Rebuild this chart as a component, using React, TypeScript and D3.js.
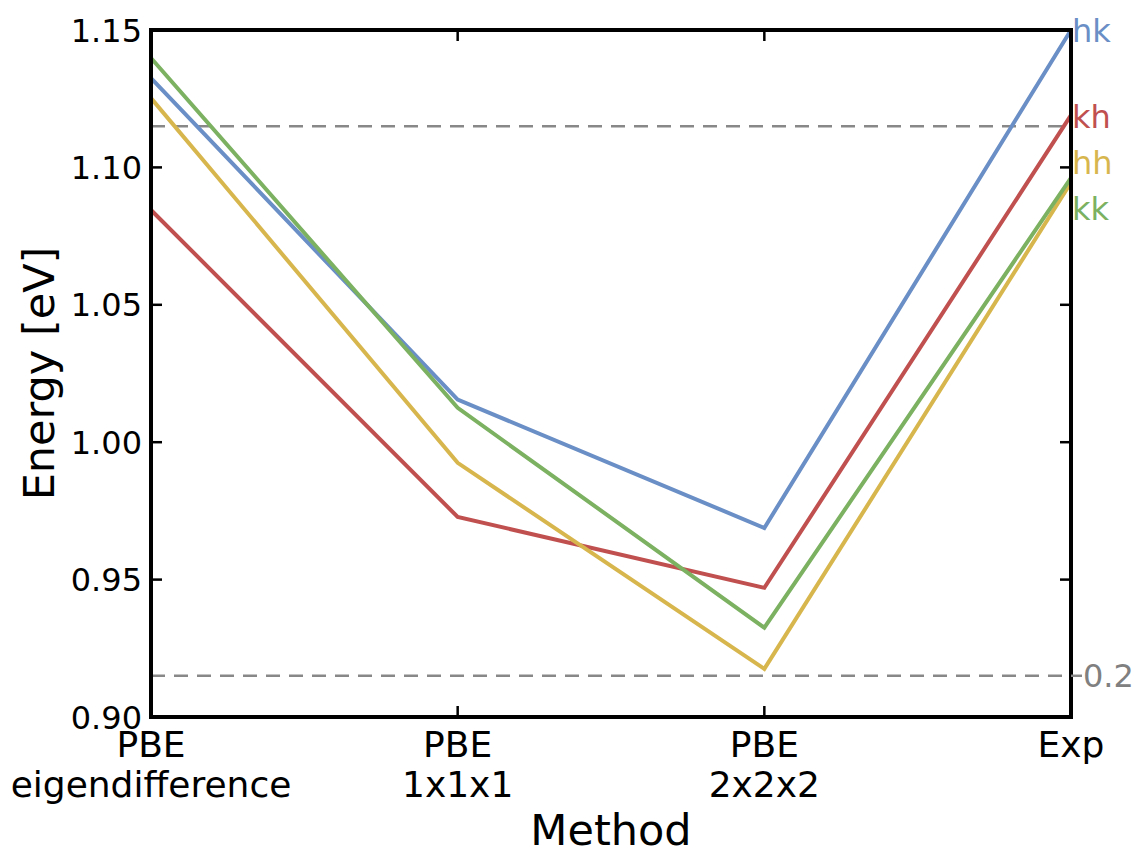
import React, { useEffect, useRef } from "react";
import * as d3 from "d3";

const methods = ["PBE\neigendifference", "PBE\n1x1x1", "PBE\n2x2x2", "Exp"];
const yTicks = [0.9, 0.95, 1.0, 1.05, 1.1, 1.15];

const hk = [1.1325, 1.0155, 0.9688, 1.15];
const kh = [1.0845, 0.9728, 0.947, 1.119];
const hh = [1.1252, 0.9925, 0.9175, 1.0945];
const kk = [1.1398, 1.0125, 0.9325, 1.0962];

const series = [
  { name: "hk", values: hk, color: "#6a8ec6" },
  { name: "kh", values: kh, color: "#c0504f" },
  { name: "hh", values: hh, color: "#d8b64e" },
  { name: "kk", values: kk, color: "#7bb161" },
];
const labelY = [1.15, 1.1185, 1.1018, 1.085];
const dashedLevels = [1.115, 0.915];

const W = 1135;
const H = 850;
const left = 151;
const right = 1071;
const top = 30;
const bottom = 717;

const App = () => {
  const svgRef = useRef<SVGSVGElement>(null);

  useEffect(() => {
    const svg = d3.select(svgRef.current);
    svg.selectAll("*").remove();
    const font = "DejaVu Sans, sans-serif";

    const x = d3.scalePoint<number>().domain(methods.map((_, i) => i)).range([left, right]);
    const y = d3.scaleLinear().domain([0.9, 1.15]).range([bottom, top]);

    // dashed reference lines
    svg
      .selectAll(".ref")
      .data(dashedLevels)
      .join("line")
      .attr("x1", left)
      .attr("x2", right)
      .attr("y1", (d) => y(d))
      .attr("y2", (d) => y(d))
      .attr("stroke", "#888888")
      .attr("stroke-width", 2.5)
      .attr("stroke-dasharray", "14,9");

    const line = d3
      .line<number>()
      .x((_, i) => x(i)!)
      .y((d) => y(d));

    svg
      .selectAll(".series")
      .data(series)
      .join("path")
      .attr("d", (s) => line(s.values))
      .attr("fill", "none")
      .attr("stroke", (s) => s.color)
      .attr("stroke-width", 4);

    // frame
    svg
      .append("rect")
      .attr("x", left)
      .attr("y", top)
      .attr("width", right - left)
      .attr("height", bottom - top)
      .attr("fill", "none")
      .attr("stroke", "#000")
      .attr("stroke-width", 4);

    // y ticks (inward, both sides)
    const tickLen = 11;
    yTicks.forEach((t) => {
      svg.append("line").attr("x1", left).attr("x2", left + tickLen).attr("y1", y(t)).attr("y2", y(t)).attr("stroke", "#000").attr("stroke-width", 2.5);
      svg.append("line").attr("x1", right).attr("x2", right - tickLen).attr("y1", y(t)).attr("y2", y(t)).attr("stroke", "#000").attr("stroke-width", 2.5);
    });
    svg
      .selectAll(".ytl")
      .data(yTicks)
      .join("text")
      .attr("x", left - 9)
      .attr("y", (d) => y(d))
      .attr("dy", "0.36em")
      .attr("text-anchor", "end")
      .attr("font-family", font)
      .attr("font-size", 32)
      .text((d) => d.toFixed(2));

    // x ticks
    methods.forEach((_, i) => {
      const xx = x(i)!;
      svg.append("line").attr("x1", xx).attr("x2", xx).attr("y1", bottom).attr("y2", bottom - tickLen).attr("stroke", "#000").attr("stroke-width", 2.5);
      svg.append("line").attr("x1", xx).attr("x2", xx).attr("y1", top).attr("y2", top + tickLen).attr("stroke", "#000").attr("stroke-width", 2.5);
    });
    methods.forEach((m, i) => {
      const t = svg
        .append("text")
        .attr("x", x(i)!)
        .attr("y", 757)
        .attr("text-anchor", "middle")
        .attr("font-family", font)
        .attr("font-size", 36);
      m.split("\n").forEach((part, k) => {
        t.append("tspan").attr("x", x(i)!).attr("dy", k === 0 ? 0 : 40).text(part);
      });
    });

    // series labels at right
    series.forEach((s, i) => {
      svg
        .append("text")
        .attr("x", right + 1)
        .attr("y", y(labelY[i]))
        .attr("dy", "0.36em")
        .attr("font-family", font)
        .attr("font-size", 32)
        .attr("fill", s.color)
        .text(s.name);
    });

    svg
      .append("line")
      .attr("x1", right)
      .attr("x2", right + 11)
      .attr("y1", y(0.915))
      .attr("y2", y(0.915))
      .attr("stroke", "#888888")
      .attr("stroke-width", 2.5);
    svg
      .append("text")
      .attr("x", right + 12)
      .attr("y", y(0.915))
      .attr("dy", "0.36em")
      .attr("font-family", font)
      .attr("font-size", 32)
      .attr("fill", "#808080")
      .text("0.2");

    // axis titles
    svg
      .append("text")
      .attr("x", (left + right) / 2)
      .attr("y", 845)
      .attr("text-anchor", "middle")
      .attr("font-family", font)
      .attr("font-size", 43)
      .text("Method");
    svg
      .append("text")
      .attr("transform", `translate(54,${(top + bottom) / 2}) rotate(-90)`)
      .attr("text-anchor", "middle")
      .attr("font-family", font)
      .attr("font-size", 43)
      .text("Energy [eV]");
  }, []);

  return (
    <svg
      ref={svgRef}
      width={W}
      height={H}
      style={{ position: "absolute", left: 0, top: 0, background: "#fff" }}
    />
  );
};

export default App;
